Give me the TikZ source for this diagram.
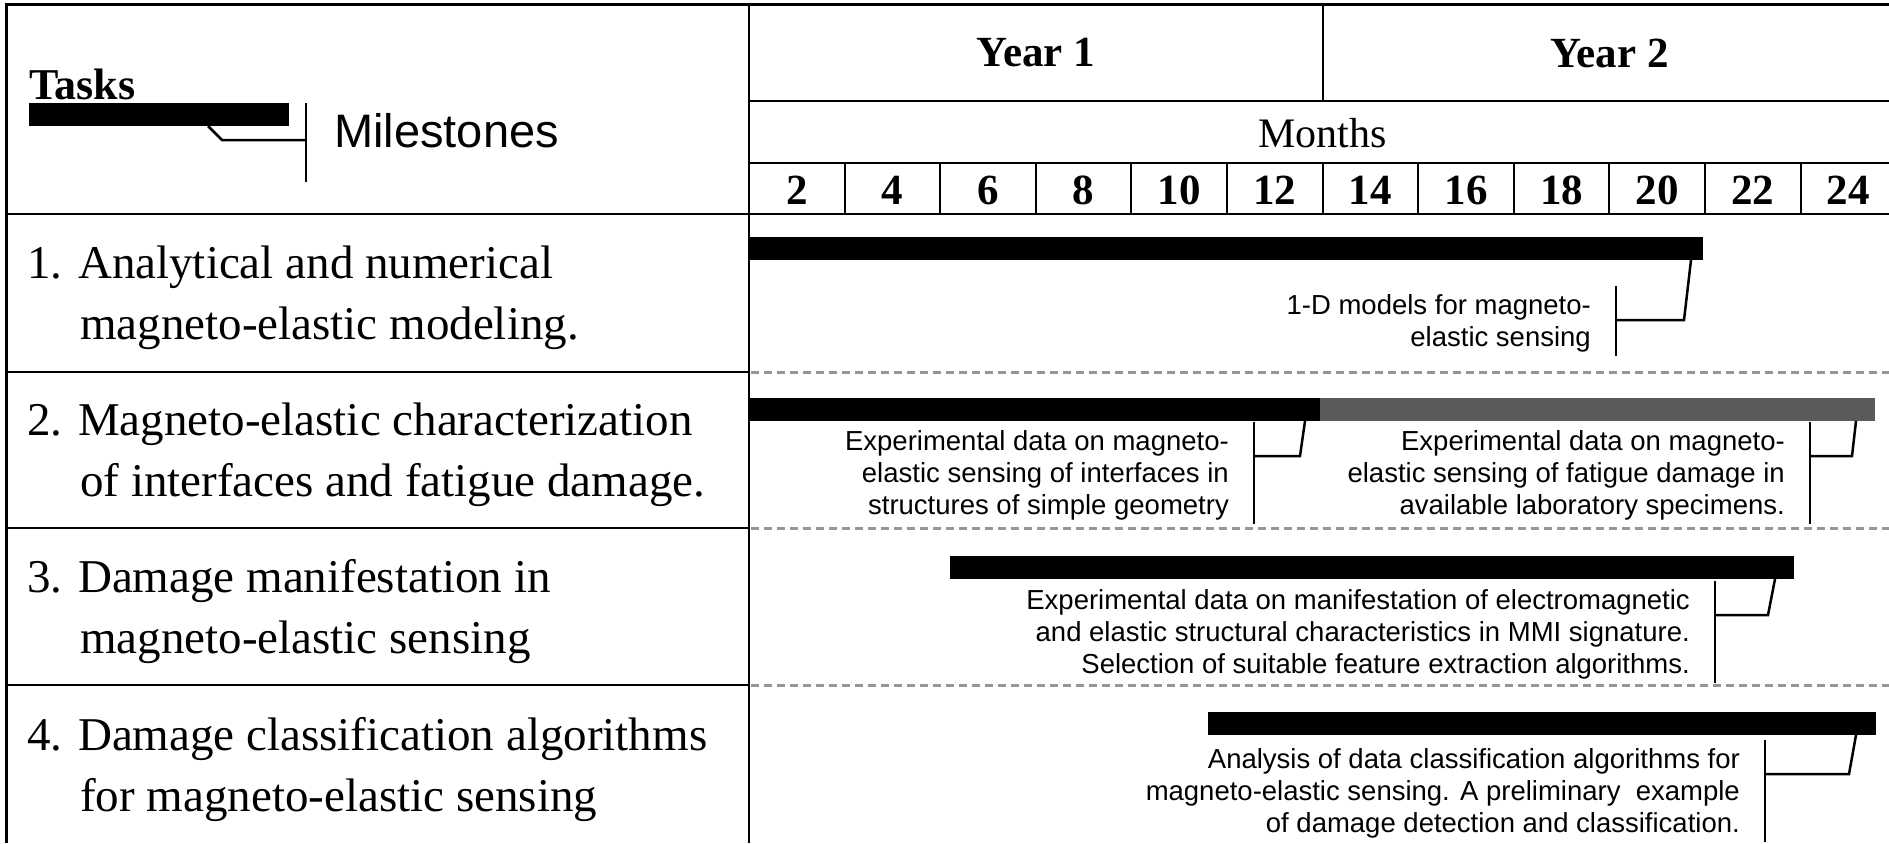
\documentclass[tikz,border=0pt]{standalone}
\usepackage{fontspec}
\setmainfont{Liberation Serif}
\newfontfamily\arialfont{Liberation Sans}
\usepackage{tikz}
\usetikzlibrary{positioning, calc}
\definecolor{dashgray}{RGB}{150,150,150}
\definecolor{bargray}{RGB}{90,90,90}

\begin{document}
\begin{tikzpicture}[
    x=1pt, y=-1pt,
    rule/.style={line width=2.5pt},
    rowsep/.style={line width=3pt, dashgray, dash pattern=on 8pt off 5pt},
    headbold/.style={font=\bfseries\fontsize{43}{50}\selectfont, inner sep=0pt},
    tasklabel/.style={font=\fontsize{47}{61}\selectfont, align=left, anchor=west, inner sep=0pt},
    taskbar/.style={fill=black, minimum height=23pt, inner sep=0pt, outer sep=0pt, anchor=north west},
    mstext/.style={font=\arialfont\fontsize{27.5}{32}\selectfont, align=right, anchor=north east, inner sep=0pt},
    msline/.style={line width=2.5pt},
]
    \useasboundingbox (0,0) rectangle (1889,843);

    \draw[line width=3pt] (6,843) -- (6,5) -- (1889,5);
    \draw[rule] (749,5) -- (749,843);
    \draw[rule] (1323,5) -- (1323,101);
    \draw[rule] (749,101) -- (1889,101);
    \draw[rule] (749,163) -- (1889,163);
    \draw[rule] (6,214) -- (1889,214);
    \foreach \k in {1,...,11}
        \draw[line width=2pt] (749+95.6*\k,163) -- (749+95.6*\k,214);
    \foreach \y in {372,528,685} {
        \draw[rule] (6,\y) -- (749,\y);
        \draw[rowsep] (751,\y) -- (1889,\y);
    }

    \node[headbold] (year1) at (1036,53) {Year 1};
    \node[headbold] (year2) at (1609.5,53) {Year 2};
    \node[font=\fontsize{42}{50}\selectfont, inner sep=0pt] (months) at (1322.5,133) {Months};
    \foreach \m in {2,4,...,24}
        \node[headbold] (mon\m) at (749+47.8*\m-47.8,190) {\m};

    \node[headbold, font=\bfseries\fontsize{44}{50}\selectfont, anchor=base west] (tasks) at (29,99) {Tasks};
    \node[taskbar, minimum width=260pt] (legbar) at (29,103) {};
    \node[font=\arialfont\fontsize{47}{56}\selectfont, anchor=west, inner sep=0pt] (milestones) at (334,131) {Milestones};
    \draw[msline] ([xshift=17pt]legbar.north east) -- ++(0,79);
    \draw[msline] ([xshift=-81pt]legbar.south east) -- ++(14,14) -- ++(84,0);

    \node[tasklabel] (task1) at (27,298) {1. Analytical and numerical\\\hspace*{53pt}magneto-elastic modeling.};
    \node[tasklabel] (task2) at (27,455) {2. Magneto-elastic characterization\\\hspace*{53pt}of interfaces and fatigue damage.};
    \node[tasklabel] (task3) at (27,612) {3. Damage manifestation in\\\hspace*{53pt}magneto-elastic sensing};
    \node[tasklabel] (task4) at (27,770) {4. Damage classification algorithms\\\hspace*{53pt}for magneto-elastic sensing};

    \node[taskbar, minimum width=954pt] (bar1) at (749,237) {};
    \node[taskbar, minimum width=571pt] (bar2a) at (749,398) {};
    \node[taskbar, fill=bargray, minimum width=555pt] (bar2b) at (1320,398) {};
    \node[taskbar, minimum width=844pt] (bar3) at (950,556) {};
    \node[taskbar, minimum width=668pt] (bar4) at (1208,712) {};

    \node[mstext] (ms1) at (1591,294) {1-D models for magneto-\\elastic sensing};
    \draw[msline] ([xshift=25pt,yshift=8pt]ms1.north east) -- ([xshift=25pt,yshift=-4pt]ms1.south east);
    \draw[msline] ([xshift=25pt,yshift=-26pt]ms1.north east) -- ++(68,0) -- ([xshift=-12pt]bar1.south east);

    \node[mstext] (ms2a) at (1229,430) {Experimental data on magneto-\\elastic sensing of interfaces in\\structures of simple geometry};
    \draw[msline] ([xshift=25pt,yshift=8pt]ms2a.north east) -- ([xshift=25pt,yshift=-4pt]ms2a.south east);
    \draw[msline] ([xshift=25pt,yshift=-26pt]ms2a.north east) -- ++(46,0) -- ([xshift=-15pt]bar2a.south east);

    \node[mstext] (ms2b) at (1785,430) {Experimental data on magneto-\\elastic sensing of fatigue damage in\\available laboratory specimens.};
    \draw[msline] ([xshift=25pt,yshift=8pt]ms2b.north east) -- ([xshift=25pt,yshift=-4pt]ms2b.south east);
    \draw[msline] ([xshift=25pt,yshift=-26pt]ms2b.north east) -- ++(42,0) -- ([xshift=-19pt]bar2b.south east);

    \node[mstext] (ms3) at (1690,589) {Experimental data on manifestation of electromagnetic\\and elastic structural characteristics in MMI signature.\\Selection of suitable feature extraction algorithms.};
    \draw[msline] ([xshift=25pt,yshift=8pt]ms3.north east) -- ([xshift=25pt,yshift=-4pt]ms3.south east);
    \draw[msline] ([xshift=25pt,yshift=-26pt]ms3.north east) -- ++(53,0) -- ([xshift=-19pt]bar3.south east);

    \node[mstext] (ms4) at (1740,748) {Analysis of data classification algorithms for\\magneto-elastic sensing. A preliminary~ example\\of damage detection and classification.};
    \draw[msline] ([xshift=25pt,yshift=8pt]ms4.north east) -- ([xshift=25pt,yshift=-4pt]ms4.south east);
    \draw[msline] ([xshift=25pt,yshift=-26pt]ms4.north east) -- ++(84,0) -- ([xshift=-20pt]bar4.south east);
\end{tikzpicture}
\end{document}
